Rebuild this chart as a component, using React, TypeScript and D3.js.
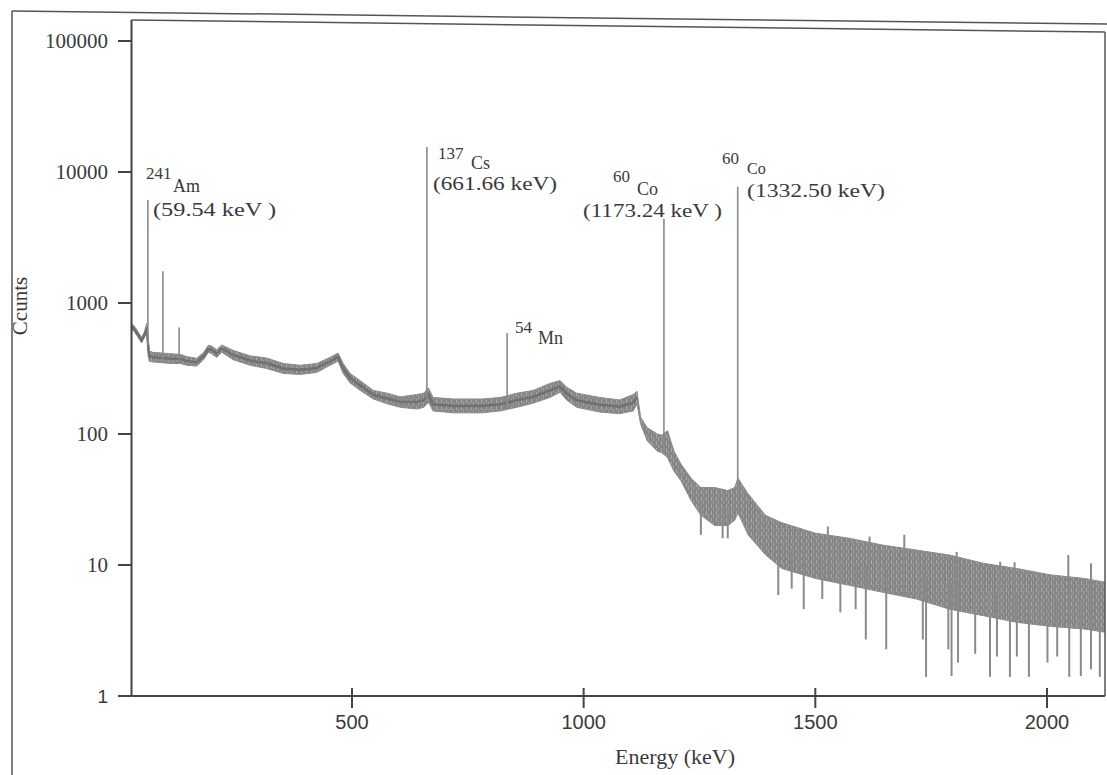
import React from "react";
import * as d3 from "d3";

// Continuum band of the spectrum: energy (keV), upper and lower envelope (counts)
const envEnergy = [23, 28, 35, 46, 53, 57, 62, 70, 90, 110, 130, 143, 165, 180, 190, 197, 208, 219, 243, 280, 316, 352, 388, 424, 453, 470, 481, 496, 518, 546, 576, 604, 640, 655, 665, 675, 720, 780, 820, 856, 891, 927, 949, 963, 985, 1035, 1078, 1107, 1115, 1123, 1137, 1159, 1169, 1181, 1195, 1210, 1232, 1253, 1283, 1311, 1326, 1333, 1355, 1392, 1428, 1500, 1573, 1645, 1718, 1790, 1863, 1935, 2008, 2080, 2125];
const envUpper = [700, 680, 630, 545, 610, 700, 430, 420, 415, 410, 405, 390, 378, 420, 475, 470, 440, 478, 435, 395, 380, 345, 335, 345, 385, 415, 345, 290, 255, 215, 205, 192, 200, 205, 225, 190, 185, 185, 190, 205, 215, 243, 256, 228, 205, 190, 182, 200, 212, 134, 112, 100, 98, 106, 74, 59, 46, 39, 39, 37, 39, 46, 35, 24, 21, 17.5, 16, 14.2, 13, 11.9, 10.3, 9.4, 8.4, 7.9, 7.4];
const envLower = [620, 620, 570, 495, 555, 600, 360, 355, 350, 345, 345, 335, 330, 370, 420, 410, 385, 420, 370, 335, 316, 290, 285, 295, 335, 360, 290, 245, 215, 185, 170, 160, 155, 160, 175, 150, 145, 145, 150, 160, 172, 190, 208, 182, 160, 147, 143, 150, 170, 119, 89, 74, 72, 66, 52, 44, 31, 24, 20, 20, 22, 25, 17, 12, 9.4, 7.9, 7.0, 6.2, 5.5, 4.6, 4.1, 3.65, 3.4, 3.25, 3.07];

// Full-energy peaks (keV, counts at top)
const peakEnergy = [59.54, 92, 127, 661.66, 834.8, 1173.24, 1332.5];
const peakCounts = [6100, 1750, 650, 15500, 590, 4400, 7700];

// Downward noise excursions at high energy (keV, counts)
const dipEnergy = [1253, 1300, 1311, 1420, 1449, 1475, 1515, 1554, 1587, 1609, 1653, 1732, 1739, 1787, 1794, 1808, 1845, 1877, 1892, 1920, 1935, 1961, 2001, 2022, 2048, 2073, 2095, 2114];
const dipCounts = [17, 16, 16, 5.9, 6.6, 4.6, 5.5, 4.35, 4.6, 2.7, 2.27, 2.7, 1.4, 2.27, 1.42, 1.8, 2.1, 1.4, 2.0, 1.4, 2.0, 1.4, 1.8, 2.0, 1.4, 1.42, 1.6, 1.4];

// Upward noise excursions (keV, counts)
const spikeEnergy = [1527, 1617, 1692, 1805, 1899, 1930, 2046, 2095];
const spikeCounts = [19.7, 16.5, 17, 12.6, 10.6, 10.5, 11.9, 10.3];

const yTicks = [1, 10, 100, 1000, 10000, 100000];
const xTicks = [500, 1000, 1500, 2000];

const W = 1107;
const H = 775;
const LEFT = 131.5;
const RIGHT = 1105;
const BOTTOM = 696;

export default function App() {
  const x = d3.scaleLinear().domain([0, 2000]).range([120.3, 1047]);
  const y = d3.scaleLog().domain([1, 100000]).range([BOTTOM, 41]);
  const lowerAt = d3.scaleLinear().domain(envEnergy).range(envLower).clamp(true);
  const upperAt = d3.scaleLinear().domain(envEnergy).range(envUpper).clamp(true);

  const band = envEnergy.map((e, i) => ({ e, u: envUpper[i], l: envLower[i] }));
  const area = d3
    .area<{ e: number; u: number; l: number }>()
    .x((d) => x(d.e))
    .y0((d) => y(d.l))
    .y1((d) => y(d.u));
  const mid = d3
    .line<{ e: number; u: number; l: number }>()
    .x((d) => x(d.e))
    .y((d) => y(Math.sqrt(d.u * d.l)));

  const serif = "'Liberation Serif', 'DejaVu Serif', serif";
  const sans = "'Liberation Sans', 'DejaVu Sans', sans-serif";
  const ink = "#3a3a3a";

  const labels = [
    { mass: "241", sym: "Am", en: "(59.54 keV )", mx: 146, my: 179, sx: 173, sy: 192, ex: 153, ey: 216, ew: 123 },
    { mass: "137", sym: "Cs", en: "(661.66 keV)", mx: 438, my: 159, sx: 471, sy: 169, ex: 433, ey: 190, ew: 124 },
    { mass: "60", sym: "Co", en: "(1173.24 keV )", mx: 613, my: 182, sx: 637, sy: 195, ex: 583, ey: 217, ew: 139 },
    { mass: "60", sym: "Co", en: "(1332.50 keV)", mx: 722, my: 164, sx: 747, sy: 174, ex: 747, ey: 197, ew: 138 },
    { mass: "54", sym: "Mn", en: "", mx: 515, my: 333, sx: 538, sy: 344, ex: 0, ey: 0, ew: 0 },
  ];

  return (
    <svg
      width={W}
      height={H}
      style={{ position: "absolute", left: 0, top: 0, display: "block", background: "#fff" }}
    >
      <defs>
        <clipPath id="plot">
          <rect x={LEFT} y={20} width={RIGHT - LEFT} height={BOTTOM - 20} />
        </clipPath>
        <pattern id="noise" width={5} height={7} patternUnits="userSpaceOnUse">
          <rect x={0} y={0} width={5} height={7} fill="#868686" />
          <rect x={1} y={0} width={1} height={4} fill="#a9a9a9" />
          <rect x={3} y={3} width={1} height={4} fill="#9d9d9d" />
        </pattern>
      </defs>

      <rect x={0} y={0} width={W} height={H} fill="#fff" />
      {/* outer frame */}
      <line x1={12} y1={11} x2={1107} y2={24} stroke="#555" strokeWidth={1.5} />
      <line x1={12} y1={11} x2={12} y2={775} stroke="#555" strokeWidth={1.5} />

      <g clipPath="url(#plot)">
        <path d={area(band) || ""} fill="url(#noise)" stroke="#8a8a8a" strokeWidth={1} />
        <path d={mid(band.filter((d) => d.e < 1120)) || ""} fill="none" stroke="#707070" strokeWidth={2.5} />
        {dipEnergy.map((e, i) => (
          <line
            key={"d" + i}
            x1={x(e)}
            x2={x(e)}
            y1={y(Math.sqrt(lowerAt(e) * upperAt(e)))}
            y2={y(dipCounts[i])}
            stroke="#8a8a8a"
            strokeWidth={2}
          />
        ))}
        {spikeEnergy.map((e, i) => (
          <line
            key={"s" + i}
            x1={x(e)}
            x2={x(e)}
            y1={y(lowerAt(e))}
            y2={y(spikeCounts[i])}
            stroke="#8a8a8a"
            strokeWidth={2}
          />
        ))}
        {peakEnergy.map((e, i) => (
          <line
            key={"p" + i}
            x1={x(e)}
            x2={x(e)}
            y1={y(lowerAt(e))}
            y2={y(peakCounts[i])}
            stroke="#8a8a8a"
            strokeWidth={1.6}
          />
        ))}
      </g>

      {/* plot frame */}
      <line x1={LEFT} y1={20} x2={RIGHT} y2={32} stroke="#555" strokeWidth={1.5} />
      <line x1={RIGHT} y1={32} x2={RIGHT} y2={BOTTOM} stroke="#555" strokeWidth={1.5} />
      <line x1={LEFT} y1={20} x2={LEFT} y2={BOTTOM} stroke="#444" strokeWidth={2} />
      <line x1={LEFT} y1={BOTTOM} x2={RIGHT} y2={BOTTOM} stroke="#444" strokeWidth={2} />

      {/* y axis */}
      {yTicks.map((t) => (
        <g key={"y" + t}>
          <line x1={118} x2={LEFT} y1={y(t)} y2={y(t)} stroke="#444" strokeWidth={2} />
          <text
            x={108}
            y={y(t)}
            textAnchor="end"
            dominantBaseline="central"
            fontFamily={t === 1 ? sans : serif}
            fontSize={t === 1 ? 19 : 21}
            fill={ink}
          >
            {t}
          </text>
        </g>
      ))}

      {/* x axis */}
      {xTicks.map((t) => (
        <g key={"x" + t}>
          <line x1={x(t)} x2={x(t)} y1={BOTTOM - 8} y2={BOTTOM + 12} stroke="#444" strokeWidth={2} />
          <text x={x(t)} y={729} textAnchor="middle" fontFamily={sans} fontSize={20} fill={ink}>
            {t}
          </text>
        </g>
      ))}

      <text
        x={675}
        y={764}
        textAnchor="middle"
        fontFamily={serif}
        fontSize={21}
        fill={ink}
        textLength={120}
        lengthAdjust="spacingAndGlyphs"
      >
        Energy (keV)
      </text>
      <text
        transform="translate(27,306) rotate(-90)"
        textAnchor="middle"
        fontFamily={serif}
        fontSize={21}
        fill={ink}
      >
        Ccunts
      </text>

      {/* peak annotations */}
      {labels.map((l, i) => (
        <g key={"l" + i} fill={ink} fontFamily={serif}>
          <text x={l.mx} y={l.my} fontSize={17}>
            {l.mass}
          </text>
          <text x={l.sx} y={l.sy} fontSize={i === 3 ? 16 : 18}>
            {l.sym}
          </text>
          {l.en && (
            <text x={l.ex} y={l.ey} fontSize={19} textLength={l.ew} lengthAdjust="spacingAndGlyphs">
              {l.en}
            </text>
          )}
        </g>
      ))}
    </svg>
  );
}
